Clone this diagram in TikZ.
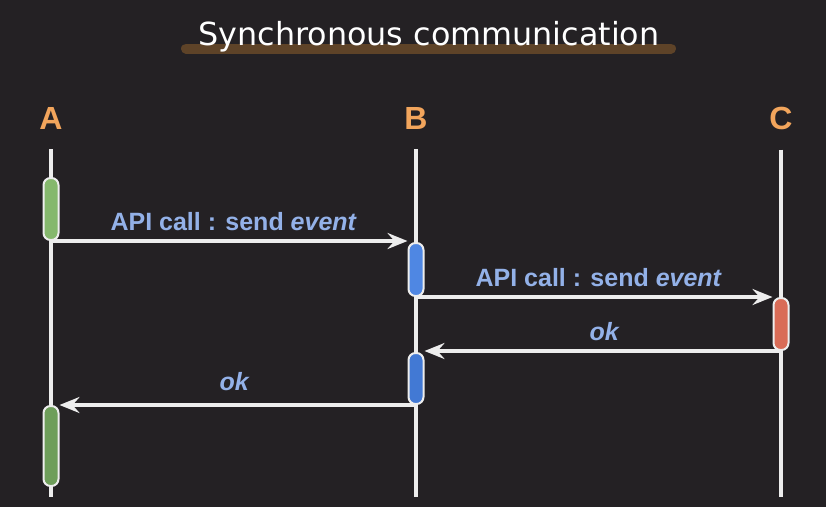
\documentclass[tikz,border=0pt]{standalone}
\usepackage{fontspec}
\setmainfont{Liberation Sans}
\newfontfamily\titlefont{DejaVu Sans}
\usepackage{tikz}
\usepackage{xcolor}
\usetikzlibrary{arrows.meta}

\definecolor{bgdark}{HTML}{242124}
\definecolor{linewhite}{HTML}{EDEDED}
\definecolor{headorange}{HTML}{F2A55C}
\definecolor{msgblue}{HTML}{93B1E8}
\definecolor{ulbrown}{HTML}{5E4328}
\definecolor{greenA}{HTML}{85B86D}
\definecolor{greenB}{HTML}{6E9E5A}
\definecolor{blueA}{HTML}{4F87E3}
\definecolor{blueB}{HTML}{4279D4}
\definecolor{redC}{HTML}{D96C57}

\begin{document}
\begin{tikzpicture}[x=1pt,y=-1pt]
	\tikzstyle{head} = [text=headorange, inner sep=0pt, font=\fontsize{32}{32}\selectfont\bfseries]
	\tikzstyle{life} = [draw=linewhite, line width=3.5pt]
	\tikzstyle{bar} = [draw=linewhite, line width=2pt, rounded corners=7pt, minimum width=15pt, inner sep=0pt]
	\tikzstyle{msg} = [draw=linewhite, line width=3.5pt, -{Stealth[length=20pt,width=16pt,inset=7pt]}]
	\tikzstyle{lbl} = [text=msgblue, inner sep=0pt, font=\fontsize{25}{25}\selectfont\bfseries]
	\fill[bgdark] (0,0) rectangle (826,507);
	\useasboundingbox (0,0) rectangle (826,507);

	% title with its brown underline
	\draw[ulbrown, line width=10pt, line cap=round] (186,48.5) -- (671,48.5);
	\node[anchor=base, inner sep=0pt, text=white, font=\titlefont\fontsize{31.8}{31.8}\selectfont] (ttl) at (429,45) {Synchronous communication};

	% heads and lifelines
	\node[head] (A) at (51,118) {A};
	\node[head] (B) at (416,118) {B};
	\node[head] (C) at (781,118) {C};
	\coordinate (Aend) at (51,497);
	\coordinate (Bend) at (416,497);
	\coordinate (Cend) at (781,497);
	\draw[life] (A.south) ++(0,20) -- (Aend);
	\draw[life] (B.south) ++(0,20) -- (Bend);
	\draw[life] (C.south) ++(0,20) -- (Cend);

	% activation bars (placed first, drawn after the messages)
	\path
		(51,209) coordinate (a1)
		(416,269.5) coordinate (b1)
		(781,324) coordinate (c1)
		(416,378.5) coordinate (b2)
		(51,446) coordinate (a2);
	\coordinate (a1s) at (51,241);
	\coordinate (b1s) at (416,297);
	\coordinate (c1s) at (781,351);
	\coordinate (b2s) at (416,405);

	% messages
	\draw[msg] (a1s) -- node[lbl, above=9pt, xshift=4.5pt] {API call : send \textit{event}} ([xshift=-8.5pt]b1s |- a1s);
	\draw[msg] (b1s) -- node[lbl, above=9pt, xshift=4.5pt] {API call : send \textit{event}} ([xshift=-8.5pt]c1s |- b1s);
	\draw[msg] (c1s) -- node[lbl, above=9pt, xshift=2pt] {\textit{ok}} ([xshift=8.5pt]b2s |- c1s);
	\draw[msg] (b2s) -- node[lbl, above=13pt, xshift=-3pt] {\textit{ok}} ([xshift=8.5pt]a1s |- b2s);

	\node[bar, fill=greenA, minimum height=62pt] (a1n) at (a1) {};
	\node[bar, fill=blueA, minimum height=53pt] (b1n) at (b1) {};
	\node[bar, fill=redC, minimum height=52pt] (c1n) at (c1) {};
	\node[bar, fill=blueB, minimum height=51pt] (b2n) at (b2) {};
	\node[bar, fill=greenB, minimum height=80pt] (a2n) at (a2) {};
\end{tikzpicture}
\end{document}
